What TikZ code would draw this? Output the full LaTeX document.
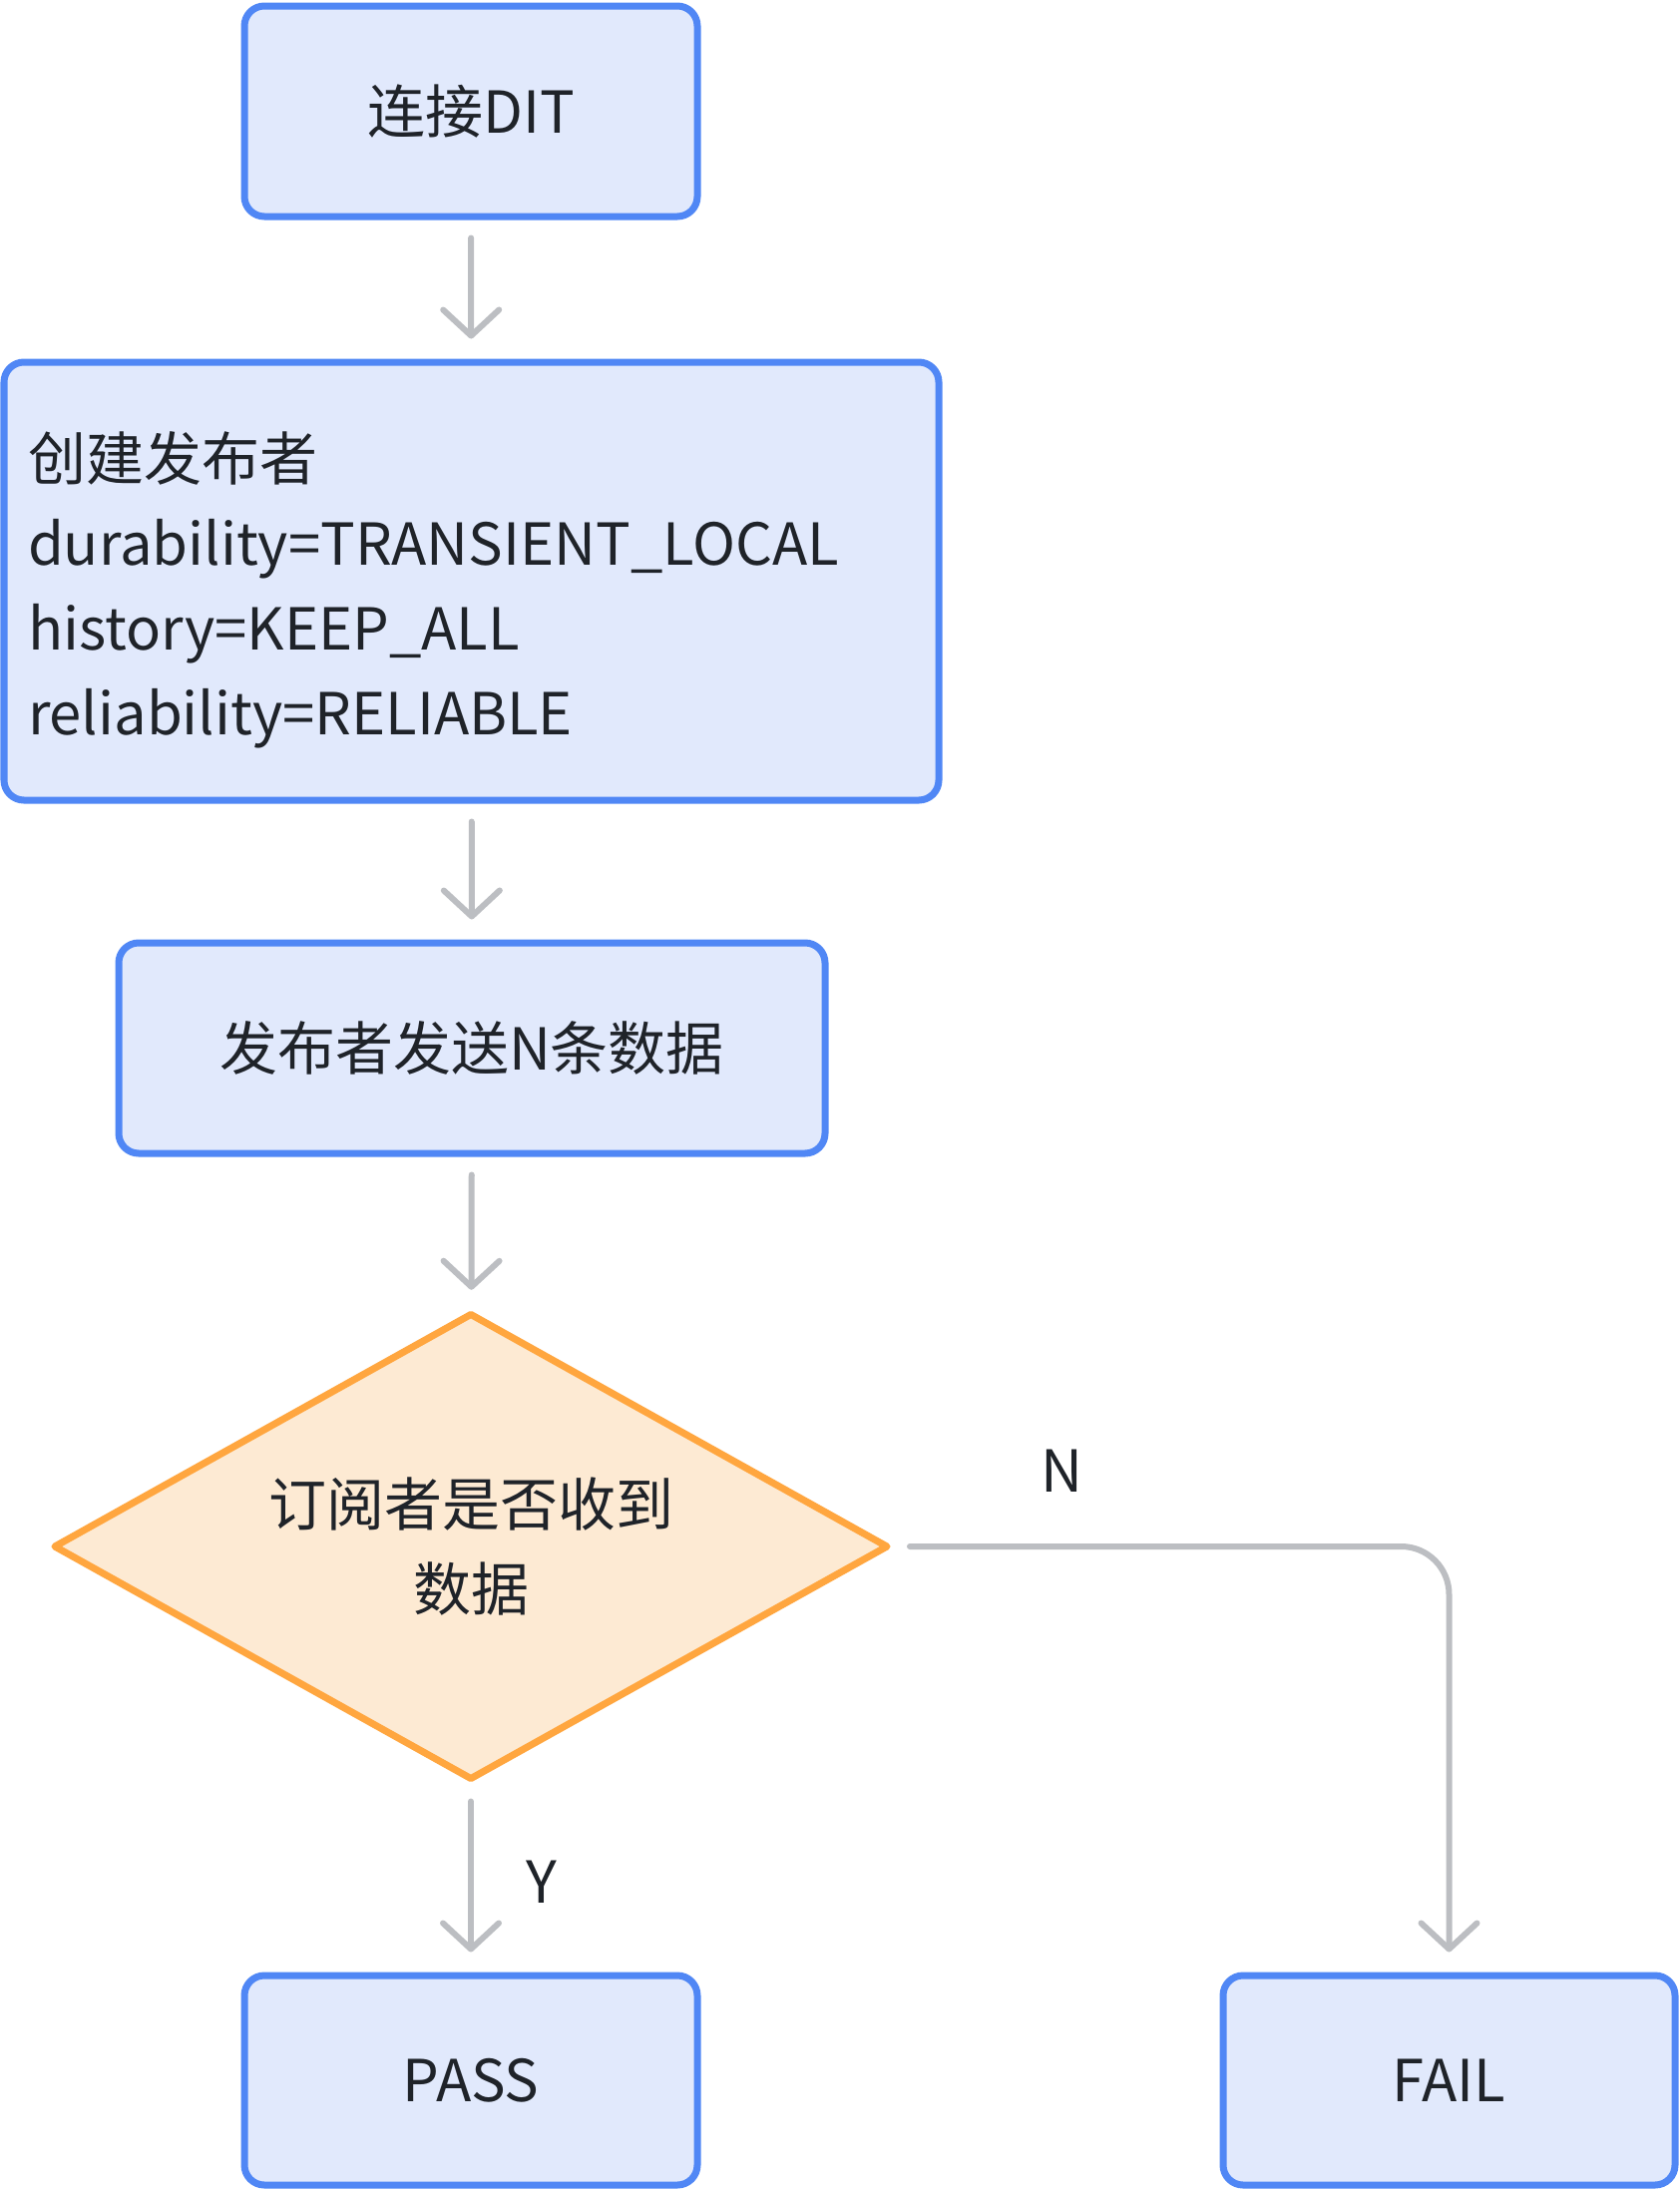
\documentclass[tikz,border=0pt]{standalone}
\usepackage{fontspec}
\setmainfont{Noto Sans CJK SC}
\usetikzlibrary{shapes.geometric,arrows.meta}
\definecolor{bborder}{HTML}{5087F5}
\definecolor{bfill}{HTML}{E1E9FC}
\definecolor{oborder}{HTML}{FFA63F}
\definecolor{ofill}{HTML}{FDEAD3}
\definecolor{conn}{HTML}{BCBEC2}
\definecolor{txt}{HTML}{1F2329}
\tikzset{
  procbox/.style={draw=bborder, fill=bfill, line width=3.5pt, rounded corners=10pt,
    text=txt, font=\fontsize{29pt}{42.5pt}\selectfont, inner sep=0pt},
  decbox/.style={diamond, shape aspect=1.79, draw=oborder, fill=ofill, line width=3.5pt, line join=round,
    text=txt, font=\fontsize{29pt}{42.5pt}\selectfont, inner sep=0pt, align=center},
  conline/.style={draw=conn, line width=3pt, line cap=round,
    -{Straight Barb[length=13pt,width=28pt,line cap=round,line join=round]},
    shorten >=10pt, shorten <=9pt},
  lbl/.style={text=txt, font=\fontsize{29pt}{42pt}\selectfont, inner sep=0pt}
}
\begin{document}
\begin{tikzpicture}[x=0.5pt,y=-0.5pt]
\useasboundingbox (0,0) rectangle (1684,2195);
\node[procbox, minimum width=227pt, minimum height=105.5pt] (connect) at (472,111.5) {连接DIT};
\node[procbox, minimum width=468.5pt, minimum height=219.5pt, text width=444.5pt, align=left, inner xsep=12pt] (create) at (472.5,582.5)
  {\rule{0pt}{33.5pt}创建发布者\\durability=TRANSIENT\_LOCAL\\history=KEEP\_ALL\\reliability=RELIABLE};
\node[procbox, minimum width=354pt, minimum height=105.5pt] (send) at (473,1050.5) {发布者发送N条数据};
\node[decbox, minimum width=418.5pt, minimum height=234pt] (check) at (472,1550) {订阅者是否收到\\数据};
\node[procbox, minimum width=227pt, minimum height=105pt] (pass) at (472,2085) {PASS};
\node[procbox, minimum width=226.5pt, minimum height=105pt] (fail) at (1452.5,2085) {FAIL};
\draw[conline] (connect) -- (create);
\draw[conline] (create) -- (send);
\draw[conline] (send) -- (check);
\draw[conline] (check) -- (pass);
\draw[conline, rounded corners=24pt] (check.east) -| (fail.north);
\node[lbl] (ylab) at (543,1886) {Y};
\node[lbl] (nlab) at (1064,1474) {N};
\end{tikzpicture}
\end{document}
